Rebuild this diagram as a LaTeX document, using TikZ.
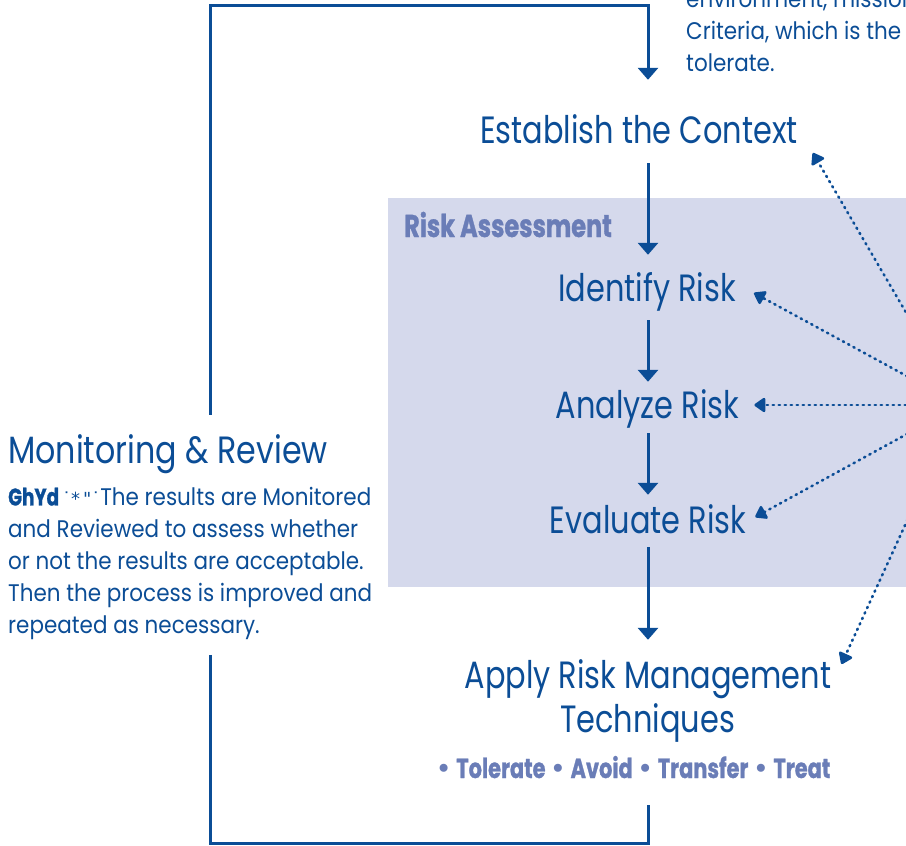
\documentclass[tikz,border=0pt]{standalone}
\usepackage{fontspec}
\setmainfont{Poppins}
\newfontfamily\stagefont{Poppins}[FakeStretch=0.80]
\newfontfamily\titlefont{Poppins}[FakeStretch=0.835]
\newfontfamily\bodyfont{Poppins}[FakeStretch=0.895]
\newfontfamily\heavyfont{Poppins Bold}[FakeStretch=0.76,FakeBold=1]
\newfontfamily\symfont{DejaVu Sans}
\usetikzlibrary{arrows.meta}

\definecolor{ink}{HTML}{0B4D96}
\definecolor{panelfill}{HTML}{D5D9EC}
\definecolor{tagblue}{HTML}{6A7DB7}

\tikzset{
  stage/.style={text=ink, font=\stagefont\fontsize{38}{44}\selectfont,
    inner xsep=0pt, inner ysep=8pt, text height=30pt, text depth=6pt, anchor=base},
  bodytext/.style={text=ink, font=\bodyfont\fontsize{24}{32}\selectfont,
    inner sep=0pt, align=left, anchor=north west},
  tagline/.style={text=tagblue, font=\heavyfont\fontsize{27.5}{32}\selectfont, inner sep=0pt},
  flow/.style={draw=ink, line width=3pt, -{Triangle[width=20pt,length=12pt]}},
  cycle line/.style={draw=ink, line width=3pt},
  feedback/.style={draw=ink, line width=2.6pt, dash pattern=on 1.3pt off 4.7pt,
    line cap=round, -{Triangle[width=16pt,length=12pt,round=false]}},
}

\begin{document}
\begin{tikzpicture}[x=1pt,y=-1pt]
  \useasboundingbox (0,0) rectangle (906,846);
  \clip (0,0) rectangle (906,846);

  % Risk assessment panel
  \fill[panelfill] (388,198) rectangle (930,587);
  \node[tagline, anchor=base west, font=\heavyfont\fontsize{31.5}{36}\selectfont]
    (ra) at (404,237) {Risk Assessment};

  % reference lines
  \coordinate (spine) at (648,0);
  \coordinate (rail) at (210,0);
  \coordinate (hub) at (960,405);

  % process stages
  \node[stage] (ctx)   at (639,143) {Establish the Context};
  \node[stage] (ident) at (647,301) {Identify Risk};
  \node[stage] (anal)  at (647.5,418) {Analyze Risk};
  \node[stage] (eval)  at (648,533) {Evaluate Risk};
  \node[stage] (apply) at (648,688) {Apply Risk Management};
  \node[stage] (tech)  at (647.5,732) {Techniques};
  \node[tagline, anchor=base] (opts) at (633,778)
    {{\symfont\textbullet}\ Tolerate {\symfont\textbullet}\ Avoid
     {\symfont\textbullet}\ Transfer {\symfont\textbullet}\ Treat};

  % monitoring block
  \node[stage, anchor=base west, font=\titlefont\fontsize{38}{44}\selectfont]
    (mon) at (8,463) {Monitoring \& Review};
  \node[bodytext] (monbody) at (8,487)
    {\rule{0pt}{18pt}{\heavyfont\color{ink}\fontsize{24}{32}\selectfont GhYd}%
     {\symfont\fontsize{18}{32}\selectfont\,˙*\,"˙}The results are Monitored\\
     \rule{0pt}{18pt}and Reviewed to assess whether\\
     \rule{0pt}{18pt}or not the results are acceptable.\\
     \rule{0pt}{18pt}Then the process is improved and\\
     \rule{0pt}{18pt}repeated as necessary.};

  % context note (top right)
  \node[bodytext] (note) at (686,-11)
    {\rule{0pt}{18pt}environment, mission\\
     \rule{0pt}{18pt}Criteria, which is the\\
     \rule{0pt}{18pt}tolerate.};

  % main flow
  \draw[flow] ([yshift=-6pt]ctx.south -| spine) -- ([yshift=8pt]ident.north -| spine);
  \draw[flow] ([yshift=-5pt]ident.south -| spine) -- ([yshift=-2pt]anal.north -| spine);
  \draw[flow] ([yshift=-1pt]anal.south -| spine) -- (eval.north -| spine);
  \draw[flow] (eval.south -| spine) -- ([yshift=10pt]apply.north -| spine);

  % review cycle
  \draw[cycle line, -{Triangle[width=20pt,length=12pt]}]
    ([yshift=10pt]mon.north -| rail) |- (spine |- 0,5) -- ([yshift=25pt]ctx.north -| spine);
  \draw[cycle line]
    ([yshift=-15pt]monbody.south -| rail) |- (spine |- 0,843) -- ([yshift=-27pt]opts.south -| spine);

  % feedback links
  \draw[feedback] (hub) -- ([shift={(15,22)}]ctx.east);
  \draw[feedback] (hub) -- ([shift={(18,4)}]ident.east);
  \draw[feedback] (hub) -- ([shift={(15,-1)}]anal.east);
  \draw[feedback] (hub) -- ([shift={(9,-4)}]eval.east);
  \draw[feedback] (hub) -- ([shift={(10,-12)}]apply.east);
\end{tikzpicture}
\end{document}
